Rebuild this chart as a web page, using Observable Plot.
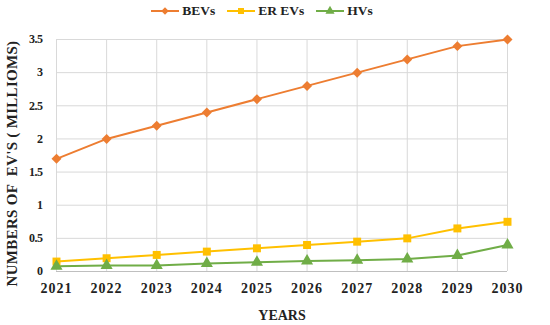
<!DOCTYPE html>
<html>
<head>
<meta charset="utf-8">
<script src="https://cdn.jsdelivr.net/npm/d3@7"></script>
<script src="https://cdn.jsdelivr.net/npm/@observablehq/plot@0.6"></script>
<style>
  body { margin: 0; background: #fff; font-family: "Liberation Serif", serif; }
  #legend { height: 22px; display: flex; justify-content: center; align-items: center; gap: 12px; font-weight: bold; font-size: 13.5px; color: #222; padding-right: 26px; }
  .item { display: flex; align-items: center; gap: 3px; }
</style>
</head>
<body>
<div id="legend"></div>
<div id="chart"></div>
<script>
const years = [2021, 2022, 2023, 2024, 2025, 2026, 2027, 2028, 2029, 2030];
const bevs  = [1.7, 2.0, 2.2, 2.4, 2.6, 2.8, 3.0, 3.2, 3.4, 3.5];
const erevs = [0.15, 0.2, 0.25, 0.3, 0.35, 0.4, 0.45, 0.5, 0.65, 0.75];
const hvs   = [0.08, 0.09, 0.09, 0.12, 0.14, 0.16, 0.17, 0.19, 0.24, 0.4];
const yTicks = [0, 0.5, 1, 1.5, 2, 2.5, 3, 3.5];
const seriesNames = ["BEVs", "ER EVs", "HVs"];
const colors = ["#ED7D31", "#FFC000", "#70AD47"];
const symbols = ["diamond2", "square", "triangle"];
const seriesValues = [bevs, erevs, hvs];

const data = seriesNames.flatMap((s, i) => years.map((yr, j) => ({series: s, year: yr, value: seriesValues[i][j]})));

// legend
const legend = document.getElementById("legend");
seriesNames.forEach((s, i) => {
  const item = document.createElement("div");
  item.className = "item";
  const sym = d3.symbol().type([d3.symbolDiamond2, d3.symbolSquare, d3.symbolTriangle][i]).size(36)();
  item.innerHTML = `<svg width="28" height="12"><line x1="0" x2="28" y1="6" y2="6" stroke="${colors[i]}" stroke-width="2"/><path d="${sym}" transform="translate(14,6)" fill="${colors[i]}"/></svg><span>${s}</span>`;
  legend.appendChild(item);
});

const chart = Plot.plot({
  width: 550,
  height: 303,
  marginTop: 17,
  marginBottom: 54,
  marginLeft: 56,
  marginRight: 43,
  style: {fontFamily: "Liberation Serif, serif", fontWeight: "bold", fontSize: "13px", color: "#222"},
  x: {domain: [2021, 2030], ticks: years, tickFormat: d => String(d), tickSize: 0, tickPadding: 12, label: "YEARS", labelAnchor: "center", labelArrow: "none", labelOffset: 48},
  y: {domain: [0, 3.5], ticks: yTicks, tickFormat: d => String(d), tickSize: 0, tickPadding: 14, label: "NUMBERS OF  EV'S ( MILLIOMS)", labelAnchor: "center", labelArrow: "none", labelOffset: 50},
  color: {domain: seriesNames, range: colors},
  symbol: {domain: seriesNames, range: symbols},
  marks: [
    Plot.gridX(years, {stroke: "#d9d9d9", strokeOpacity: 1}),
    Plot.gridY(yTicks, {stroke: "#d9d9d9", strokeOpacity: 1}),
    Plot.ruleY([0], {stroke: "#bfbfbf"}),
    Plot.line(data, {x: "year", y: "value", z: "series", stroke: "series", strokeWidth: 2}),
    Plot.dot(data, {x: "year", y: "value", fill: "series", symbol: "series", r: 4.5, stroke: "none"})
  ]
});
const sel = d3.select(chart);
sel.selectAll('g[aria-label="x-axis tick label"]').attr("font-size", 14).style("letter-spacing", "1px");
sel.selectAll('g[aria-label="y-axis tick label"]').attr("font-size", 12).style("letter-spacing", "-0.5px");
sel.selectAll('g[aria-label="x-axis label"]').attr("font-size", 14);
const yl = sel.selectAll('g[aria-label="y-axis label"]').attr("font-size", 15).style("letter-spacing", "0.3px");
yl.selectAll("text").each(function() {
  const t = this.getAttribute("transform") || "";
  this.setAttribute("transform", "translate(0,8) " + t);
});
document.getElementById("chart").appendChild(chart);
</script>
</body>
</html>
